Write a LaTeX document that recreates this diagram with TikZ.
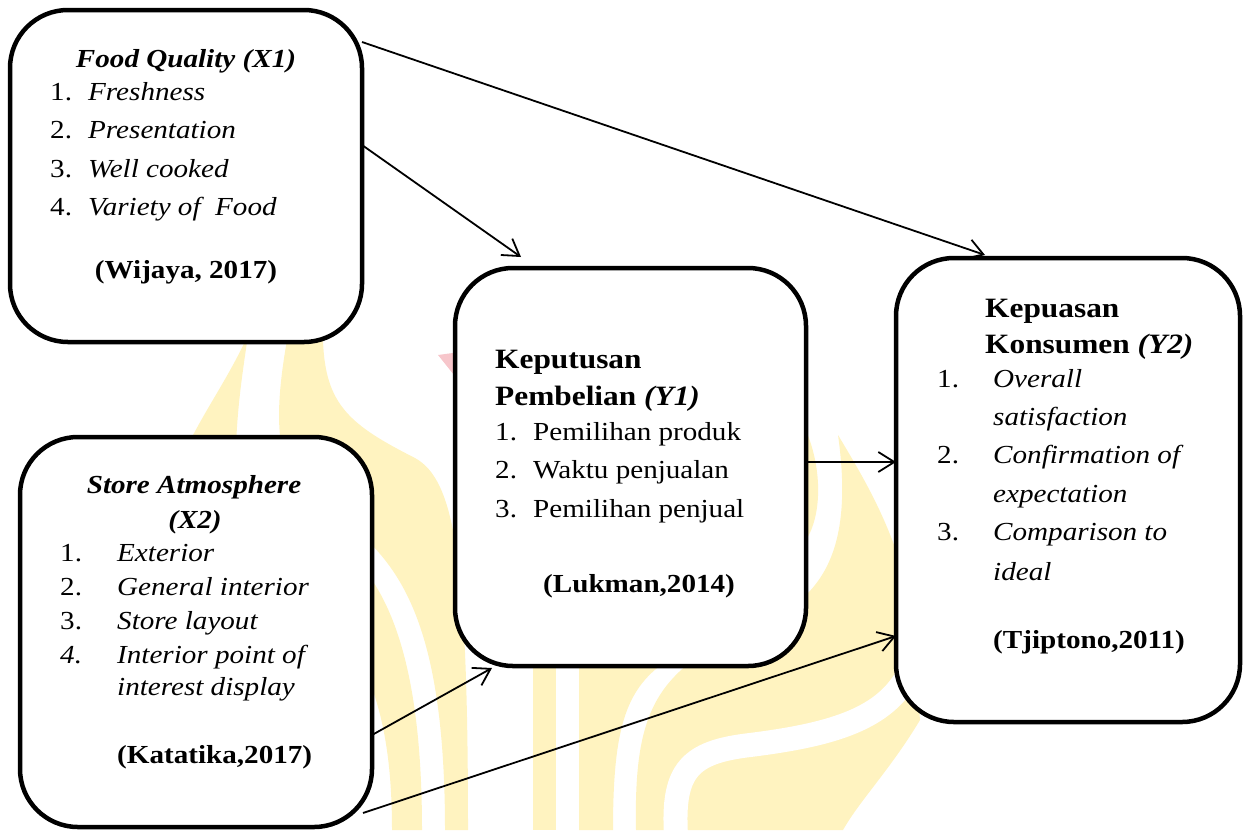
\documentclass[tikz,border=0pt]{standalone}
\usepackage{fontspec}
\setmainfont{Liberation Serif}[FakeStretch=1.12]
\usetikzlibrary{arrows.meta,calc}
\definecolor{wm}{HTML}{FFF3C0}
\definecolor{wmpink}{HTML}{F7C6CB}
\begin{document}
\begin{tikzpicture}[x=1pt,y=-1pt,
  box/.style={draw,line width=4.5pt,rounded corners=58pt,fill=white,outer sep=0pt,inner sep=0pt},
  txt/.style={inner sep=0pt,anchor=base west,font=\fontsize{26}{30}\selectfont},
  ctxt/.style={txt,anchor=base},
  head/.style={inner sep=0pt,anchor=base west,font=\fontsize{28}{32}\selectfont\bfseries},
  arr/.style={line width=1.8pt,-{Straight Barb[length=16pt,width=20pt,line width=1.8pt]}}]
\useasboundingbox (0,0) rectangle (1246,830);
% watermark
\fill[wm] (248,335) .. controls (230,375) and (205,410) .. (188,445) -- (236,445) .. controls (238,400) and (243,370) .. (248,335) -- cycle;
\fill[wm] (287,340) -- (323,340) .. controls (325,405) and (350,425) .. (415,458) .. controls (455,480) and (468,560) .. (468,830) -- (445,830) .. controls (445,650) and (410,585) .. (372,545) -- (290,470) .. controls (272,440) and (280,380) .. (287,340) -- cycle;
\fill[wm] (372,580) .. controls (402,625) and (422,700) .. (422,830) -- (392,830) .. controls (392,750) and (380,700) .. (360,660) -- cycle;
\fill[wm] (533,640) rectangle (556,830);
\fill[wm] (579,640) -- (579,830) -- (613,830) .. controls (613,730) and (625,690) .. (665,662) -- (665,640) -- cycle;
\fill[wm] (636,830) .. controls (634,730) and (650,690) .. (700,655) -- (808,593) .. controls (835,565) and (850,520) .. (838,435) .. controls (865,480) and (895,530) .. (910,600) -- (920,720) .. controls (890,770) and (860,800) .. (843,830) -- cycle;
\draw[white,line width=24pt] (676,835) .. controls (672,770) and (690,752) .. (750,745) .. controls (830,735) and (880,720) .. (905,680);
\fill[wm] (807,433) .. controls (822,470) and (822,515) .. (806,540) -- (790,540) -- (790,433) -- cycle;
\fill[wmpink] (438,355) -- (460,352) -- (458,380) -- cycle;
% boxes
\node[box,minimum width=352pt,minimum height=332pt] (x1) at (186,176) {};
\node[box,minimum width=352pt,minimum height=390pt] (x2) at (196,632) {};
\node[box,minimum width=351pt,minimum height=398pt] (y1) at (630.5,467) {};
\node[box,minimum width=344pt,minimum height=464pt] (y2) at (1068,490) {};
% X1 text
\node[ctxt] (x1h) at (186,67) {\textbf{\textit{Food Quality (X1)}}};
\node[txt] (x1n1) at (50,100) {1.};
\node[txt] (x1t1) at (88,100) {\textit{Freshness}};
\node[txt] (x1n2) at (50,138) {2.};
\node[txt] (x1t2) at (88,138) {\textit{Presentation}};
\node[txt] (x1n3) at (50,177) {3.};
\node[txt] (x1t3) at (88,177) {\textit{Well cooked}};
\node[txt] (x1n4) at (50,215) {4.};
\node[txt] (x1t4) at (88,215) {\textit{Variety of~ Food}};
\node[ctxt] (x1c) at (186,278) {\textbf{(Wijaya, 2017)}};
% X2 text
\node[ctxt] (x2h) at (194,493) {\textbf{\textit{Store Atmosphere}}};
\node[ctxt] (x2h2) at (195,528) {\textbf{\textit{(X2)}}};
\node[txt] (x2n1) at (60,561) {1.};
\node[txt] (x2t1) at (117,561) {\textit{Exterior}};
\node[txt] (x2n2) at (60,595) {2.};
\node[txt] (x2t2) at (117,595) {\textit{General interior}};
\node[txt] (x2n3) at (60,629) {3.};
\node[txt] (x2t3) at (117,629) {\textit{Store layout}};
\node[txt] (x2n4) at (60,663) {\textit{4.}};
\node[txt] (x2t4) at (117,663) {\textit{Interior point of}};
\node[txt] (x2t5) at (117,695) {\textit{interest display}};
\node[txt] (x2c) at (117,763) {\textbf{(Katatika,2017)}};
% Y1 text
\node[head] (y1h) at (495,368) {Keputusan};
\node[head] (y1h2) at (495,405) {Pembelian \textit{(Y1)}};
\node[txt] (y1n1) at (495,440) {1.};
\node[txt] (y1t1) at (533,440) {Pemilihan produk};
\node[txt] (y1n2) at (495,478) {2.};
\node[txt] (y1t2) at (533,478) {Waktu penjualan};
\node[txt] (y1n3) at (495,517) {3.};
\node[txt] (y1t3) at (533,517) {Pemilihan penjual};
\node[txt] (y1c) at (543,592) {\textbf{(Lukman,2014)}};
% Y2 text
\node[head] (y2h) at (985,317) {Kepuasan};
\node[head] (y2h2) at (985,353) {Konsumen \textit{(Y2)}};
\node[txt] (y2n1) at (937,387) {1.};
\node[txt] (y2t1) at (993,387) {\textit{Overall}};
\node[txt] (y2t1b) at (993,425) {\textit{satisfaction}};
\node[txt] (y2n2) at (937,463) {2.};
\node[txt] (y2t2) at (993,463) {\textit{Confirmation of}};
\node[txt] (y2t2b) at (993,502) {\textit{expectation}};
\node[txt] (y2n3) at (937,540) {3.};
\node[txt] (y2t3) at (993,540) {\textit{Comparison to}};
\node[txt] (y2t3b) at (993,580) {\textit{ideal}};
\node[txt] (y2c) at (993,648) {\textbf{(Tjiptono,2011)}};
% connectors
\draw[arr] ($(x1.north east)+(0,32)$) -- ($(y2.north west)+(89,-3)$);
\draw[arr] ($(x1.north east)+(0,135)$) -- ($(y1.north west)+(66,-11)$);
\draw[arr] ($(y1.north east)+(0,194)$) -- ($(y2.north west)+(0,204)$);
\draw[arr] ($(x2.north east)+(0,298)$) -- ($(y1.south west)+(37,2)$);
\draw[arr] ($(x2.south east)+(-9,-14)$) -- ($(y2.north west)+(0,378)$);
\end{tikzpicture}
\end{document}
